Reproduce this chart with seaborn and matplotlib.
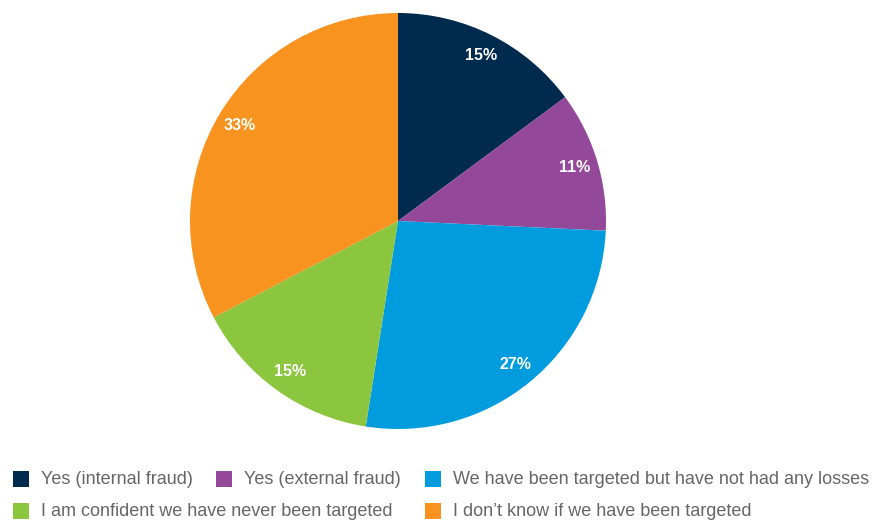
import matplotlib
matplotlib.use("Agg")
import matplotlib.pyplot as plt
from matplotlib.patches import Rectangle
import numpy as np
import seaborn as sns

# survey answers, clockwise from 12 o'clock
labels = [
    "Yes (internal fraud)",
    "Yes (external fraud)",
    "We have been targeted but have not had any losses",
    "I am confident we have never been targeted",
    "I don\u2019t know if we have been targeted",
]
shares = [15, 11, 27, 15, 33]
colors = ["#002b4e", "#94489a", "#009cdd", "#8cc63f", "#f7931e"]

sns.set_style("white")
plt.rcParams["font.family"] = ["Liberation Sans", "DejaVu Sans"]

W, H = 878, 520
fig = plt.figure(figsize=(W / 100, H / 100), dpi=100)

cx, cy, r = 398, 221, 208
ax = fig.add_axes([(cx - r) / W, (H - cy - r) / H, 2 * r / W, 2 * r / H])
wedges, _ = ax.pie(
    shares, colors=colors, startangle=90, counterclock=False,
    radius=1, wedgeprops=dict(linewidth=0),
)
# percentage labels near the rim
total = sum(shares)
start = 90.0
for v in shares:
    span = v / total * 360
    mid = np.deg2rad(start - span / 2)
    ax.text(0.89 * np.cos(mid), 0.89 * np.sin(mid), f"{v}%",
            ha="center", va="center", color="white",
            fontsize=11.5, fontweight="bold")
    start -= span
ax.set_xlim(-1, 1)
ax.set_ylim(-1, 1)
ax.set_aspect("equal")
ax.axis("off")

# flow legend underneath
slots = [(13, 471), (216, 471), (425, 471), (13, 503), (425, 503)]
for (x, y), lab, col in zip(slots, labels, colors):
    fig.patches.append(Rectangle((x / W, 1 - (y + 16) / H), 16 / W, 16 / H,
                                 transform=fig.transFigure, color=col,
                                 linewidth=0))
    fig.text((x + 28) / W, 1 - (y + 8) / H, lab, ha="left", va="center",
             color="#666666", fontsize=13.0)

fig.savefig("out.png", dpi=100)
